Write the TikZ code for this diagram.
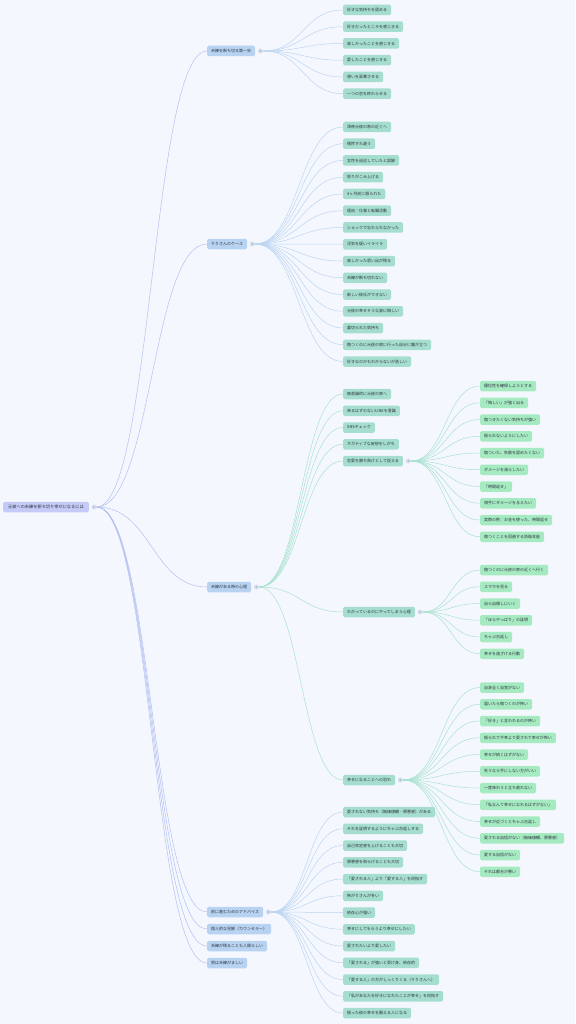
\documentclass[tikz,border=0pt]{standalone}
\usepackage{fontspec}
\newfontfamily\jp{Noto Sans CJK JP}
\usetikzlibrary{calc}
\definecolor{bg}{HTML}{F4F8FE}
\definecolor{rootc}{HTML}{C3CBF6}
\definecolor{lonec}{HTML}{B8D3F1}
\definecolor{leafc}{HTML}{A5DECE}
\definecolor{leafbc}{HTML}{A6EAC2}
\definecolor{rootlink}{HTML}{B4C0F2}
\definecolor{bluelink}{HTML}{BCD4F2}
\definecolor{greenlink}{HTML}{A9E2CF}
\definecolor{txt}{HTML}{2E3440}
\definecolor{dotc}{HTML}{D5DEEE}
\definecolor{dotin}{HTML}{7F8CA8}
\tikzset{
  box/.style={rounded corners=1.5pt, inner xsep=4pt, inner ysep=0pt, minimum height=10.5pt,
    text=txt, font=\jp\fontsize{4}{5}\selectfont, anchor=west},
  rootbox/.style={box, fill=rootc, inner xsep=5pt, font=\jp\fontsize{4.2}{5}\selectfont},
  onebox/.style={box, fill=lonec},
  leafbox/.style={box, fill=leafc},
  leafboxb/.style={box, fill=leafbc},
  dot/.style={circle, fill=dotc, minimum size=5pt, inner sep=0pt,
    path picture={\fill[dotin] (path picture bounding box.center) circle (0.6pt);}},
  link/.style={line width=0.5pt},
}
\newcommand\lnk[3]{\draw[link,#1] let \p1=(#2.east), \p2=(#3.west) in (\p1) .. controls ({(\x1+\x2)/2},\y1) and ({(\x1+\x2)/2},\y2) .. (\p2);}
\begin{document}
\begin{tikzpicture}[x=1pt,y=-1pt]
\fill[bg] (0,0) rectangle (575,1024);
\useasboundingbox (0,0) rectangle (575,1024);

% root
\node[rootbox] (root) at (3,507) {元彼への未練を断ち切り幸せになるには};
\node[dot] (rc) at ([xshift=5pt]root.east) {};

% level 1
\node[onebox] (a) at (207,51) {未練を断ち切る第一歩};
\node[dot] (ac) at ([xshift=5pt]a.east) {};
\node[onebox] (b) at (207,244) {りりさんのケース};
\node[dot] (bc) at ([xshift=5pt]b.east) {};
\node[onebox] (c) at (207,587) {未練がある時の心理};
\node[dot] (cc) at ([xshift=5pt]c.east) {};
\node[onebox] (d) at (207,912) {前に進むためのアドバイス};
\node[dot] (dc) at ([xshift=5pt]d.east) {};
\node[onebox] (e) at (207,929) {個人的な見解（カウンセラー）};
\node[onebox] (f) at (207,946) {未練が残ることも人間らしい};
\node[onebox] (g) at (207,963) {男は未練がましい};
\foreach \m in {a,b,c,d,e,f,g}{\lnk{rootlink}{rc}{\m}}

% group a
\foreach \t [count=\k] in {好きな気持ちを認める,好きだったところを感じきる,楽しかったことを感じきる,愛したことを感じきる,想いを昇華させる,一つの恋を終わらせる}{
  \node[leafbox] (a-\k) at (343,{10+16.75*(\k-1)}) {\t};
  \lnk{bluelink}{ac}{a-\k}
}

% group b
\foreach \t [count=\k] in {深夜元彼の家の近くへ,偶然すれ違う,女性を送迎していたと誤解,怒りがこみ上げる,4ヶ月前に振られた,理由：仕事と転職活動,ショックで忘れられなかった,浮気を疑いイライラ,楽しかった思い出が残る,未練が断ち切れない,新しい彼氏ができない,元彼の幸せそうな姿に悔しい,裏切られた気持ち,傷つくのに元彼の家に行った自分に腹が立つ,好きなのかもわからないが苦しい}{
  \node[leafbox] (b-\k) at (343,{127+16.75*(\k-1)}) {\t};
  \lnk{bluelink}{bc}{b-\k}
}

% group c
\foreach \t [count=\k] in {無意識的に元彼の家へ,来るはずのないLINEを意識,SNSチェック,ネガティブな妄想をしがち,恋愛を勝ち負けとして捉える}{
  \node[leafbox] (c-\k) at (343,{394+16.75*(\k-1)}) {\t};
  \lnk{greenlink}{cc}{c-\k}
}
\node[leafbox] (c-6) at (343,612) {わかっているのにやってしまう心理};
\lnk{greenlink}{cc}{c-6}
\node[leafbox] (c-7) at (343,780) {幸せになることへの恐れ};
\lnk{greenlink}{cc}{c-7}
\node[dot] (c5c) at ([xshift=5pt]c-5.east) {};
\node[dot] (c6c) at ([xshift=5pt]c-6.east) {};
\node[dot] (c7c) at ([xshift=5pt]c-7.east) {};

\foreach \t [count=\k] in {優位性を確保しようとする,「悔しい」が強く出る,傷つきたくない気持ちが強い,振られないようにしたい,傷ついた、失敗を認めたくない,ダメージを減らしたい,「時間返せ」,相手にダメージを与えたい,実際の例：お金を使った、時間返せ,傷つくことを回避する防衛本能}{
  \node[leafboxb] (p-\k) at (480,{386+16.75*(\k-1)}) {\t};
  \lnk{greenlink}{c5c}{p-\k}
}
\foreach \t [count=\k] in {傷つくのに元彼の家の近くへ行く,スマホを見る,自ら自爆しにいく,「ほらやっぱり」の証明,ちゃぶ台返し,幸せを遠ざける行動}{
  \node[leafboxb] (q-\k) at (480,{570+16.75*(\k-1)}) {\t};
  \lnk{greenlink}{c6c}{q-\k}
}
\foreach \t [count=\k] in {自身全く自覚がない,届いたら傷つくのが怖い,「好き」と言われるのが怖い,振られて不幸より愛されて幸せが怖い,幸せが続くはずがない,失うなら手にしない方がいい,一度味わうと立ち直れない,「私なんて幸せになれるはずがない」,幸せが近づくとちゃぶ台返し,愛される自信がない（無価値観、罪悪感）,愛する自信がない,それは都合が悪い}{
  \node[leafboxb] (r-\k) at (480,{687.5+16.75*(\k-1)}) {\t};
  \lnk{greenlink}{c7c}{r-\k}
}

% group d
\foreach \t [count=\k] in {愛されない気持ち（無価値観・罪悪感）がある,それを証明するようにちゃぶ台返しする,自己肯定感を上げることも大切,罪悪感を和らげることも大切,「愛される人」より「愛する人」を目指す,怖がりさんが多い,依存心が強い,幸せにしてもらうより幸せにしたい,愛されたいより愛したい,「愛される」が強いと受け身、依存的,「愛する人」の方がしっくりくる（りりさんへ）,「私があなたを好きになれたことが幸せ」を目指す,振った彼の幸せを願える人になる}{
  \node[leafbox] (d-\k) at (343,{812+16.75*(\k-1)}) {\t};
  \lnk{bluelink}{dc}{d-\k}
}
\end{tikzpicture}
\end{document}
